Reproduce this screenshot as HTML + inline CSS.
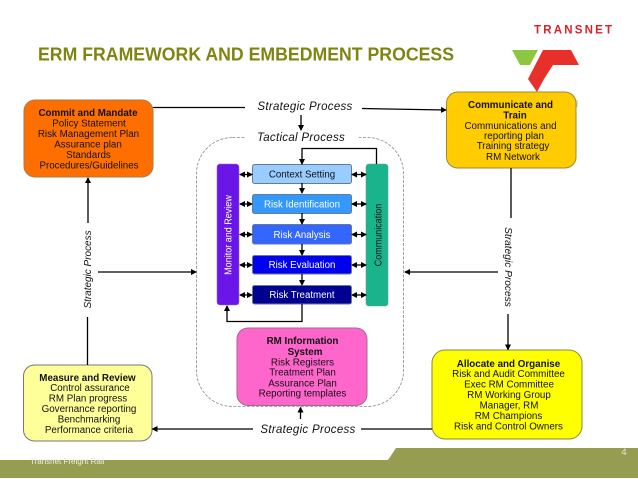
<!DOCTYPE html>
<html><head><meta charset="utf-8"><style>
html,body{margin:0;padding:0;background:#fff}
svg{display:block}
text{font-family:"Liberation Sans",sans-serif;fill:#111}
.b{font-size:9.8px;text-anchor:middle}
.s{font-size:11.5px;font-style:italic;text-anchor:middle;letter-spacing:.3px}
.w{fill:#fff}
.c{font-size:9.7px;text-anchor:middle}
.l{stroke:#000;stroke-width:1.3;fill:none}
.box{stroke:#6b7a8f;stroke-width:1}
</style></head><body>
<svg width="638" height="479" viewBox="0 0 638 479" xmlns="http://www.w3.org/2000/svg">
<defs>
<marker id="a" markerWidth="6" markerHeight="6" refX="5" refY="3" orient="auto-start-reverse" markerUnits="userSpaceOnUse"><path d="M0 0L6 3L0 6z" fill="#000"/></marker>
</defs>
<text x="38" y="60.500" textLength="416" lengthAdjust="spacingAndGlyphs" style="font-size:18px;font-weight:bold;fill:#808410">ERM FRAMEWORK AND EMBEDMENT PROCESS</text>
<text x="534" y="33.500" textLength="78" style="font-size:11.500px;font-weight:bold;fill:#d8232a">TRANSNET</text>
<path d="M512 50H538L530 65H520z" fill="#8dc63f"/>
<path d="M543 50H571L579 65H553L544 79L537 92L528 79z" fill="#e8302a"/>
<path d="M577 100V107" stroke="#c9c98a" stroke-width="1"/>

<path d="M0 460H388L396 448H638V478H0z" fill="#969c50"/>
<text x="30" y="464" style="font-size:8px;fill:#eeeedd">Transnet Freight Rail</text>
<text x="624" y="455" style="font-size:9.500px;fill:#e8e8d0;text-anchor:middle">4</text>

<rect x="196.500" y="137.500" width="207" height="269" rx="36" fill="#fff" stroke="#8a8a8a" stroke-width=".8" stroke-dasharray="3 1.500"/>
<rect x="245" y="128" width="112" height="18" fill="#fff"/>

<rect x="24" y="100" width="129" height="77" rx="11" fill="#ff6f00" stroke="#a97a50"/>
<text class="b" x="88" y="116" font-weight="bold">Commit and Mandate</text>
<text class="b" x="89" y="126.500">Policy Statement</text>
<text class="b" x="88.500" y="137">Risk Management Plan</text>
<text class="b" x="88" y="147.500">Assurance plan</text>
<text class="b" x="88.500" y="158">Standards</text>
<text class="b" x="89" y="168.500">Procedures/Guidelines</text>

<rect x="446.500" y="92" width="129.500" height="76" rx="11" fill="#ffcc00" stroke="#998a40"/>
<text class="b" x="510.500" y="108" font-weight="bold">Communicate and</text>
<text class="b" x="515" y="118.500" font-weight="bold">Train</text>
<text class="b" x="510.500" y="129">Communications and</text>
<text class="b" x="514" y="139">reporting plan</text>
<text class="b" x="513" y="149">Training strategy</text>
<text class="b" x="513" y="160">RM Network</text>

<rect x="23.500" y="365" width="128.500" height="76" rx="11" fill="#ffff99" stroke="#777"/>
<text class="b" x="87.500" y="381" font-weight="bold">Measure and Review</text>
<text class="b" x="90" y="391">Control assurance</text>
<text class="b" x="88" y="401.500">RM Plan progress</text>
<text class="b" x="89" y="412">Governance reporting</text>
<text class="b" x="89" y="422.500">Benchmarking</text>
<text class="b" x="89" y="433">Performance criteria</text>

<rect x="432" y="350" width="150" height="89" rx="13" fill="#ffff00" stroke="#888840"/>
<text class="b" x="508.500" y="367" font-weight="bold">Allocate and Organise</text>
<text class="b" x="508.500" y="377">Risk and Audit Committee</text>
<text class="b" x="509" y="387.500">Exec RM Committee</text>
<text class="b" x="509" y="398">RM Working Group</text>
<text class="b" x="509" y="408.500">Manager, RM</text>
<text class="b" x="508.500" y="419">RM Champions</text>
<text class="b" x="508.500" y="429.500">Risk and Control Owners</text>

<rect x="237" y="328" width="130" height="77.500" rx="11" fill="#ff66cc" stroke="#a06a90"/>
<text class="b" x="302.500" y="344" font-weight="bold">RM Information</text>
<text class="b" x="305" y="355" font-weight="bold">System</text>
<text class="b" x="302.500" y="365.500">Risk Registers</text>
<text class="b" x="302.500" y="375.500">Treatment Plan</text>
<text class="b" x="302.500" y="386.500">Assurance Plan</text>
<text class="b" x="302.500" y="396.500">Reporting templates</text>

<rect x="217" y="164" width="22" height="141" rx="3" fill="#6b16e8" stroke="#8a70c0" stroke-width=".6"/>
<text class="c w" transform="translate(231.500 235) rotate(-90) scale(.93 1)">Monitor and Review</text>
<rect x="366" y="164" width="22" height="142" rx="3" fill="#19b48c" stroke="#60a090" stroke-width=".6"/>
<text class="c" transform="translate(381.500 235) rotate(-90) scale(.93 1)">Communication</text>

<rect class="box" x="252.500" y="164.500" width="99" height="19" rx="2" fill="#99ccff"/>
<text class="c" x="302" y="177.500">Context Setting</text>
<rect class="box" x="252.500" y="194.500" width="99" height="19" rx="2" fill="#3399ff"/>
<text class="c w" x="302" y="207.500">Risk Identification</text>
<rect class="box" x="252.500" y="224.500" width="99" height="19.500" rx="2" fill="#3366ff"/>
<text class="c w" x="302" y="238">Risk Analysis</text>
<rect class="box" x="252.500" y="255.500" width="99" height="18.500" rx="2" fill="#0000ee"/>
<text class="c w" x="302" y="268">Risk Evaluation</text>
<rect class="box" x="252.500" y="285.500" width="99" height="18.500" rx="2" fill="#000090"/>
<text class="c w" x="302" y="298">Risk Treatment</text>

<g class="l">
<path d="M302 183V193" marker-end="url(#a)"/>
<path d="M302 213V224" marker-end="url(#a)"/>
<path d="M302 244V255" marker-end="url(#a)"/>
<path d="M302 274V285" marker-end="url(#a)"/>
<path d="M376.500 164V148.500H302V164" marker-end="url(#a)"/>
<path d="M302 304V321.500H227V306" marker-end="url(#a)"/>
<path d="M240 174.500H252" marker-start="url(#a)" marker-end="url(#a)"/>
<path d="M240 204H252" marker-start="url(#a)" marker-end="url(#a)"/>
<path d="M240 234.500H252" marker-start="url(#a)" marker-end="url(#a)"/>
<path d="M240 265H252" marker-start="url(#a)" marker-end="url(#a)"/>
<path d="M240 295H252" marker-start="url(#a)" marker-end="url(#a)"/>
<path d="M352 174.500H366" marker-start="url(#a)" marker-end="url(#a)"/>
<path d="M352 204H366" marker-start="url(#a)" marker-end="url(#a)"/>
<path d="M352 234.500H366" marker-start="url(#a)" marker-end="url(#a)"/>
<path d="M352 265H366" marker-start="url(#a)" marker-end="url(#a)"/>
<path d="M352 295H366" marker-start="url(#a)" marker-end="url(#a)"/>
<path d="M153 107.500H245"/>
<path d="M362 108.500L446 110" marker-end="url(#a)"/>
<path d="M301 115V130" marker-end="url(#a)"/>
<path d="M88 223V178" marker-end="url(#a)"/>
<path d="M87.500 317V365"/>
<path d="M98 272H196" marker-end="url(#a)"/>
<path d="M498 272H405" marker-end="url(#a)"/>
<path d="M511 168V218"/>
<path d="M508 314V349.500" marker-end="url(#a)"/>
<path d="M253 429H152.500" marker-end="url(#a)"/>
<path d="M361 429H432"/>
<path d="M300.500 419V407.500" marker-end="url(#a)"/>
</g>

<text class="s" x="305" y="110">Strategic Process</text>
<text class="s" x="301" y="141">Tactical Process</text>
<text class="s" x="308" y="433">Strategic Process</text>
<text class="s" style="font-size:10.500px;letter-spacing:0" transform="translate(91 269.500) rotate(-90) scale(.95 1)">Strategic Process</text>
<text class="s" style="font-size:10.500px;letter-spacing:0" transform="translate(505 267) rotate(90) scale(.97 1)">Strategic Process</text>
</svg>
</body></html>
